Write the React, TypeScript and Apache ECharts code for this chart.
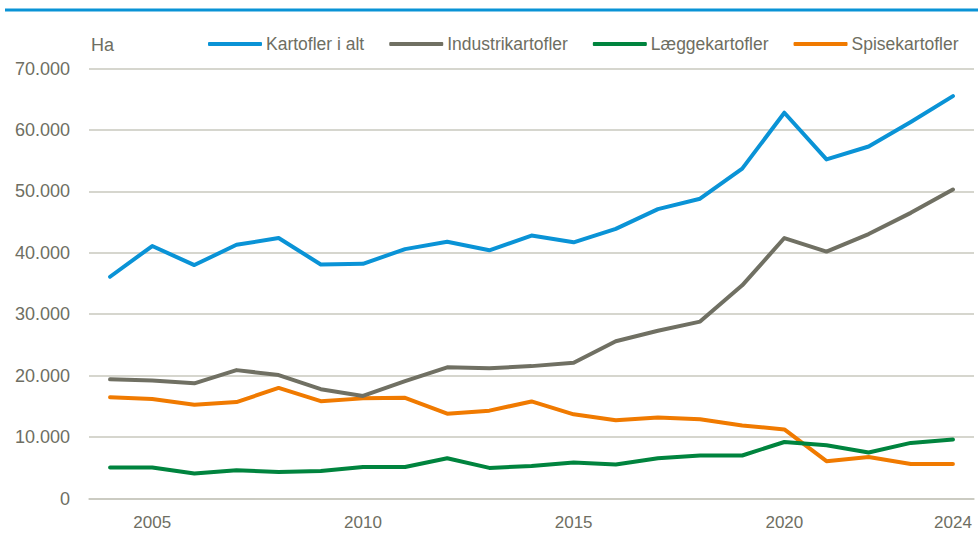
import React, { useEffect, useRef } from "react";
import * as echarts from "echarts";

const years = ["2004","2005","2006","2007","2008","2009","2010","2011","2012","2013","2014","2015","2016","2017","2018","2019","2020","2021","2022","2023","2024"];
const shownYears = ["2005", "2010", "2015", "2020", "2024"];
const yTicks = [0, 10000, 20000, 30000, 40000, 50000, 60000, 70000];

const kartoflerIAlt = [36100, 41100, 38000, 41300, 42400, 38100, 38200, 40600, 41800, 40400, 42800, 41700, 43900, 47100, 48800, 53700, 62800, 55200, 57300, 61300, 65500];
const industrikartofler = [19400, 19200, 18750, 20900, 20100, 17800, 16700, 19100, 21350, 21200, 21550, 22100, 25600, 27300, 28800, 34700, 42400, 40200, 43050, 46500, 50300];
const laeggekartofler = [5040, 5040, 4060, 4600, 4320, 4490, 5140, 5140, 6560, 4980, 5300, 5860, 5530, 6560, 7000, 7000, 9200, 8680, 7490, 9050, 9600];
const spisekartofler = [16500, 16200, 15250, 15700, 18000, 15850, 16300, 16400, 13800, 14300, 15800, 13700, 12750, 13200, 12900, 11900, 11250, 6070, 6770, 5630, 5630];

const seriesNames = ["Kartofler i alt", "Industrikartofler", "Læggekartofler", "Spisekartofler"];
const seriesColors = ["#0a93d6", "#707063", "#00843e", "#f07a00"];

const TEXT = "#6e6e62";
const GRID = "#c8c8be";
const FONT = "'Liberation Sans', Arial, sans-serif";

export default function App() {
  const ref = useRef<HTMLDivElement>(null);
  useEffect(() => {
    if (!ref.current) return;
    const chart = echarts.init(ref.current, null, { renderer: "svg" });
    const data = [kartoflerIAlt, industrikartofler, laeggekartofler, spisekartofler];
    chart.setOption({
      animation: false,
      backgroundColor: "#ffffff",
      textStyle: { fontFamily: FONT },
      grid: { left: 89, right: 4, top: 68.5, bottom: 37.5, containLabel: false },
      legend: {
        left: 203,
        top: 30,
        icon: "roundRect",
        itemWidth: 54,
        itemHeight: 4,
        itemGap: 25,
        textStyle: { color: TEXT, fontSize: 17.5, fontFamily: FONT, padding: [0, 0, 0, -1] },
        data: seriesNames,
      },
      graphic: [
        { type: "line", shape: { x1: 5, y1: 10, x2: 978, y2: 10 }, style: { stroke: "#0a93d6", lineWidth: 3 } },
        { type: "text", x: 91, y: 45, style: { text: "Ha", fill: TEXT, font: `18px ${FONT}`, textVerticalAlign: "middle" } },
      ],
      xAxis: {
        type: "category",
        data: years,
        boundaryGap: true,
        axisTick: { show: false },
        axisLine: { show: true, lineStyle: { color: GRID, width: 1.5 } },
        axisLabel: {
          color: TEXT,
          fontSize: 17,
          fontFamily: FONT,
          margin: 15,
          interval: (_i: number, v: string) => shownYears.includes(v),
        },
        splitLine: { show: false },
      },
      yAxis: {
        type: "value",
        min: yTicks[0],
        max: yTicks[yTicks.length - 1],
        interval: yTicks[1] - yTicks[0],
        axisLine: { show: false },
        axisTick: { show: false },
        axisLabel: {
          color: TEXT,
          fontSize: 18,
          fontFamily: FONT,
          margin: 19,
          formatter: (v: number) => (v === 0 ? "0" : v.toLocaleString("de-DE")),
        },
        splitLine: { lineStyle: { color: GRID, width: 1.5 } },
      },
      series: data.map((d, i) => ({
        name: seriesNames[i],
        type: "line",
        data: d,
        showSymbol: false,
        symbol: "none",
        color: seriesColors[i],
        lineStyle: { width: 4, color: seriesColors[i], cap: "round", join: "round" },
        itemStyle: { color: seriesColors[i] },
        z: 4 - i,
      })),
    });
    return () => chart.dispose();
  }, []);
  return <div ref={ref} style={{ width: 978, height: 536, position: "absolute", left: 0, top: 0 }} />;
}
